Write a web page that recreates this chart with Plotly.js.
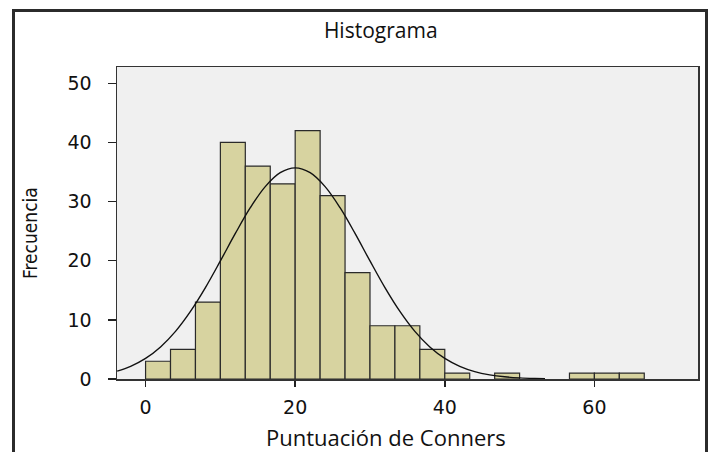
<!DOCTYPE html>
<html>
<head>
<meta charset="utf-8">
<script src="https://cdn.plot.ly/plotly-3.0.1.min.js"></script>
<style>
html,body{margin:0;padding:0;background:#fff;}
#chart{width:709px;height:452px;}
</style>
</head>
<body>
<div id="chart"></div>
<script>
// Histogram bins (start of each bin) and counts
var binWidth = 10/3;
var binStarts = [0, 3.333, 6.667, 10, 13.333, 16.667, 20, 23.333, 26.667, 30, 33.333, 36.667, 40, 46.667, 56.667, 60, 63.333];
var counts    = [3, 5, 13, 40, 36, 33, 42, 31, 18, 9, 9, 5, 1, 1, 1, 1, 1];

// Fitted normal curve
var curveX = [-3.8, -2, 0, 2, 4, 6, 8, 10, 12, 14, 16, 18, 20, 22, 24, 26, 28, 30, 32, 34, 36, 38, 40, 42, 44, 46, 48, 50, 52, 53.4];
var curveY = [1.32, 2.14, 3.48, 5.42, 8.05, 11.42, 15.45, 19.96, 24.61, 28.96, 32.53, 34.88, 35.7, 34.88, 32.53, 28.96, 24.61, 19.96, 15.45, 11.42, 8.05, 5.42, 3.48, 2.14, 1.25, 0.70, 0.37, 0.19, 0.09, 0.05];

var xTicks = [0, 20, 40, 60];
var yTicks = [0, 10, 20, 30, 40, 50];

var titleText = 'Histograma';
var xTitle = 'Puntuación de Conners';
var yTitle = 'Frecuencia';

var traces = [
  {
    type: 'bar',
    x: binStarts,
    y: counts,
    width: binWidth,
    offset: 0,
    marker: {color: '#d7d3a0', line: {color: '#2a2a2a', width: 1.2}},
    hoverinfo: 'x+y',
    showlegend: false
  },
  {
    type: 'scatter',
    mode: 'lines',
    x: curveX,
    y: curveY,
    line: {color: '#111', width: 1.4, shape: 'spline'},
    hoverinfo: 'skip',
    showlegend: false
  }
];

function px(x){ return (x - 117) / 581; }
function py(y){ return (379 - y) / 312; }

var frameColor = '#2b2b2b';
var layout = {
  width: 709,
  height: 452,
  margin: {l: 117, r: 11, t: 67, b: 73},
  paper_bgcolor: '#ffffff',
  plot_bgcolor: '#f0f0f0',
  bargap: 0,
  title: {
    text: titleText,
    font: {family: 'Open Sans, sans-serif', size: 21, color: '#111'},
    xref: 'container', x: 0.537, xanchor: 'center',
    yref: 'container', y: 0.932, yanchor: 'middle'
  },
  xaxis: {
    range: [-3.82, 73.85],
    tickvals: xTicks,
    ticktext: xTicks.map(String),
    ticks: 'outside', ticklen: 6, tickwidth: 1.5, tickcolor: '#222',
    showline: true, linecolor: '#333', linewidth: 1.5, mirror: true,
    showgrid: false, zeroline: false,
    tickfont: {family: 'DejaVu Sans, sans-serif', size: 19, color: '#111'},
    ticklabelstandoff: 5
  },
  yaxis: {
    range: [0, 52.75],
    tickvals: yTicks,
    ticktext: yTicks.map(String),
    ticks: 'outside', ticklen: 8, tickwidth: 1.5, tickcolor: '#222',
    showline: true, linecolor: '#333', linewidth: 1.5, mirror: true,
    showgrid: false, zeroline: false,
    tickfont: {family: 'DejaVu Sans, sans-serif', size: 19, color: '#111'},
    ticklabelstandoff: 12
  },
  annotations: [
    {text: xTitle, xref: 'paper', yref: 'paper', x: px(386), y: py(437), xanchor: 'center', yanchor: 'middle', showarrow: false,
     font: {family: 'Open Sans, sans-serif', size: 22, color: '#111'}},
    {text: yTitle, xref: 'paper', yref: 'paper', x: px(30), y: py(233), xanchor: 'center', yanchor: 'middle', showarrow: false, textangle: -90,
     font: {family: 'Liberation Sans Narrow, DejaVu Sans Condensed, Arial Narrow, sans-serif', size: 19, color: '#111'}}
  ],
  shapes: [
    {type: 'line', xref: 'paper', yref: 'paper', x0: px(13.5), x1: px(13.5), y0: py(10.5), y1: py(470), line: {color: frameColor, width: 3}},
    {type: 'line', xref: 'paper', yref: 'paper', x0: px(12), x1: px(708), y0: py(10.5), y1: py(10.5), line: {color: frameColor, width: 3}},
    {type: 'line', xref: 'paper', yref: 'paper', x0: px(706.5), x1: px(706.5), y0: py(9), y1: py(470), line: {color: frameColor, width: 3}}
  ]
};

Plotly.newPlot('chart', traces, layout, {displayModeBar: false, staticPlot: true});
</script>
</body>
</html>
